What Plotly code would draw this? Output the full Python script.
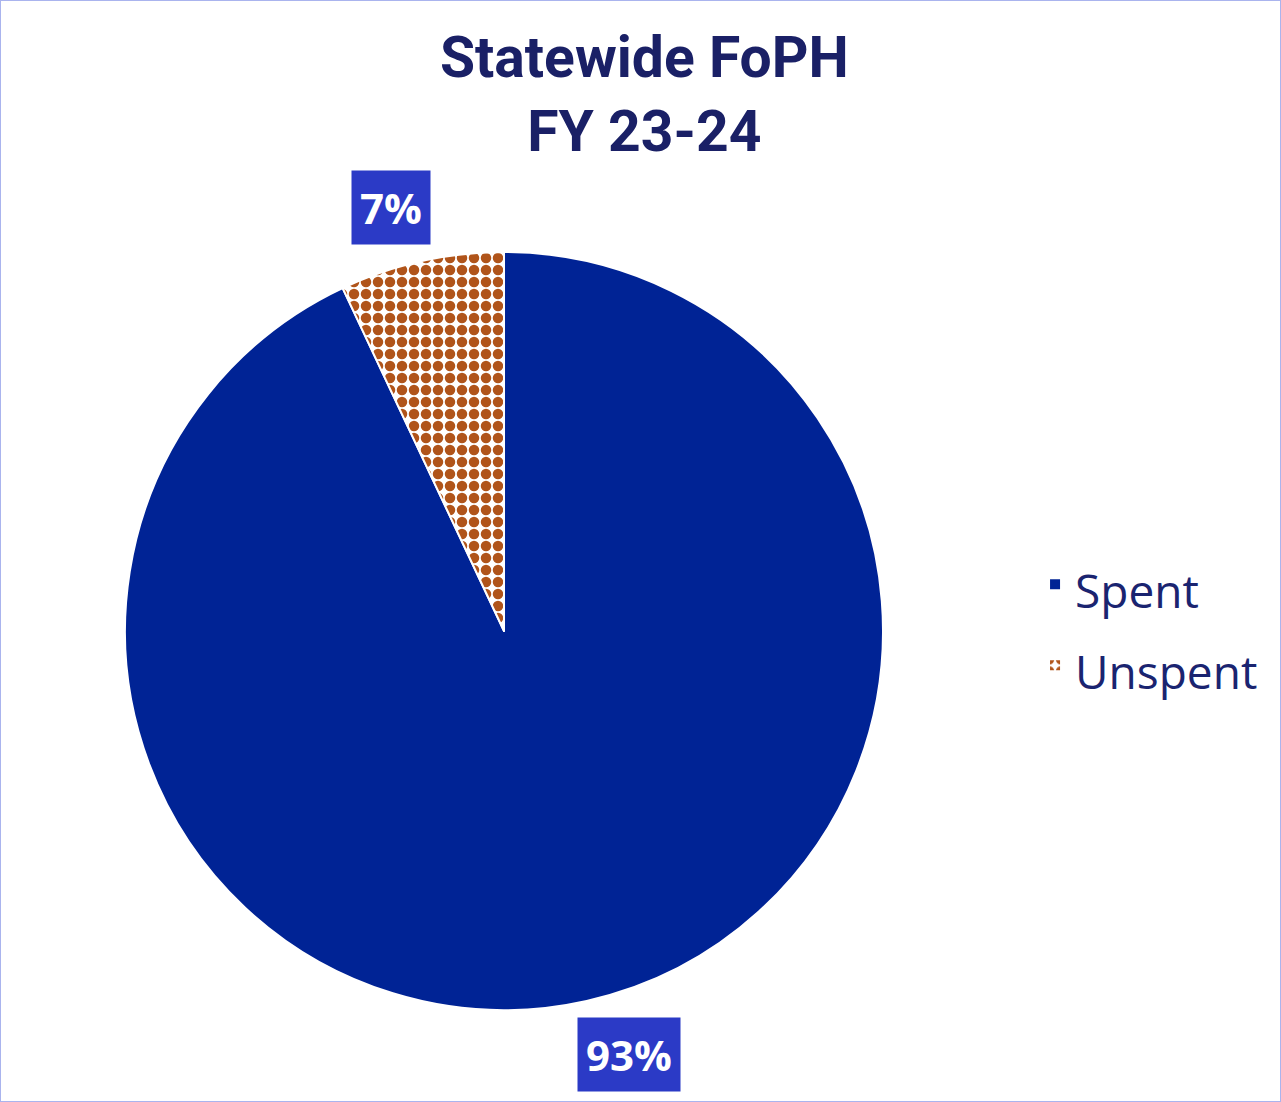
import plotly.graph_objects as go
import numpy as np

# data
labels = ["Spent", "Unspent"]
values = [93, 7]
label_text = ["93%", "7%"]

# figure size in px, used to place the boxed data labels
W = 1281
H = 1102

# pie domain (paper coords)
dom_x = [0.0976, 0.6893]
dom_y = [0.0835, 0.7713]

fig = go.Figure()

# legend rows in the reference are taller than the visible text,
# so the legend font is large and the label text is shrunk back down
legend_names = ["<span style='font-size:46px'>" + l + "</span>" for l in labels]

fig.add_trace(go.Pie(
  labels = legend_names,
  values = values,
  sort = False,
  direction = "clockwise",
  rotation = 0,
  textinfo = "none",
  hovertemplate = "%{customdata}: %{percent}<extra></extra>",
  customdata = labels,
  domain = dict(x = dom_x, y = dom_y),
  marker = dict(
    colors = ["#002395", "#ffffff"],
    line = dict(color = "white", width = 2),
    pattern = dict(shape = ["", "."], fgcolor = ["#002395", "#B0541A"],
                   size = 12, solidity = 0.6)
  )
))

# boxed data labels, placed at the mid angle of each slice
cx = (dom_x[0] + dom_x[1]) / 2 * W
cy = (1 - (dom_y[0] + dom_y[1]) / 2) * H
r = (dom_y[1] - dom_y[0]) * H / 2
frac = np.array(values) / sum(values)
start = np.concatenate([[0], np.cumsum(frac)[:-1]])
mid = (start + frac / 2) * 2 * np.pi

annotations = []
for i in range(len(values)):
  dist = r + 55
  px = cx + dist * np.sin(mid[i])
  py = cy - dist * np.cos(mid[i])
  annotations.append(dict(
    x = px / W, y = 1 - py / H, xref = "paper", yref = "paper",
    xanchor = "center", yanchor = "middle",
    xshift = 30 if np.sin(mid[i]) > 0 else -18,
    text = "<b>" + label_text[i] + "</b>",
    showarrow = False,
    font = dict(family = "Open Sans", size = 42, color = "white"),
    bgcolor = "#2B3AC6",
    borderpad = 8
  ))

fig.update_layout(
  width = W,
  height = H,
  margin = dict(l = 0, r = 0, t = 0, b = 0),
  paper_bgcolor = "white",
  title = dict(
    text = "<b>Statewide FoPH<br>FY 23-24</b>",
    x = 0.503, xanchor = "center",
    y = 0.93, yanchor = "middle",
    font = dict(family = "Roboto", size = 57, color = "#1A2066")
  ),
  legend = dict(
    x = 0.808, y = 0.433, xanchor = "left", yanchor = "middle",
    font = dict(family = "Open Sans", size = 60, color = "#1A2470"),
    bgcolor = "rgba(0,0,0,0)"
  ),
  annotations = annotations,
  shapes = [dict(type = "rect", xref = "paper", yref = "paper",
                 x0 = 0, y0 = 0, x1 = 1, y1 = 1,
                 line = dict(color = "#AAB4EE", width = 2))]
)

fig.write_html("out.html", config = {"displayModeBar": False},
               post_script = "document.body.style.margin = '0';")
